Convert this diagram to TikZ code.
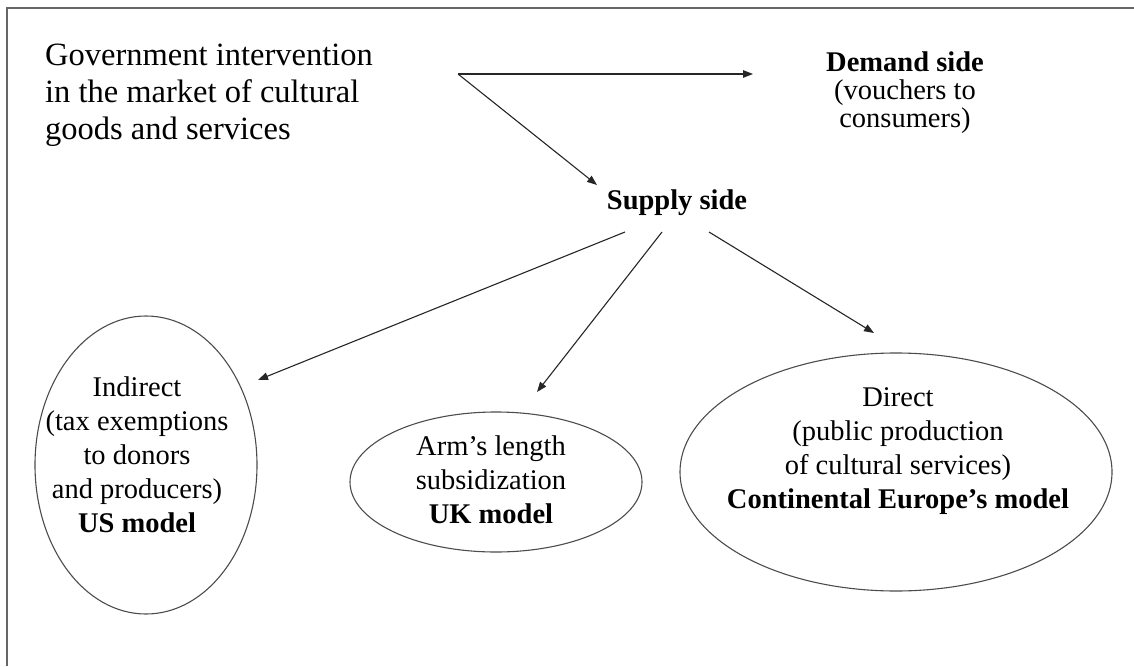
\documentclass[tikz,border=0pt]{standalone}
\usepackage{fontspec}
\setmainfont{Liberation Serif}
\usetikzlibrary{arrows.meta,shapes.geometric}
\begin{document}
\begin{tikzpicture}[x=1pt,y=-1pt,
  frame/.style={draw=black!60, line width=1.5pt},
  conn/.style={draw=black!85, line width=1.1pt, -{Triangle[length=10pt,width=7.5pt]}},
  oval/.style={draw=black!70, line width=1.1pt, ellipse, inner sep=0pt},
  txt/.style={inner sep=0pt, align=center, font=\fontsize{28.5}{34}\selectfont},
  ]
\useasboundingbox (0,0) rectangle (1134,666);
\draw[frame] (7,666) -- (7,8) -- (1134,8);

% texts
\node[inner sep=0pt, anchor=west, align=left, font=\fontsize{32.5}{37}\selectfont] (gov) at (45,95)
  {Government intervention\\in the market of cultural\\goods and services};
\node[inner sep=0pt, align=center, font=\fontsize{28.5}{28}\selectfont] (dem) at (905,93)
  {\textbf{Demand side}\\(vouchers to\\consumers)};
\node[txt] (sup) at (677,203) {\textbf{Supply side}};

% ellipses
\node[oval, minimum width=222pt, minimum height=298pt] (ind) at (146,465) {};
\node[txt] (indt) at (137,455) {Indirect\\(tax exemptions\\to donors\\and producers)\\\textbf{US model}};
\node[oval, minimum width=292pt, minimum height=140pt] (uk) at (496,482) {};
\node[txt] (ukt) at (491,480) {Arm’s length\\subsidization\\\textbf{UK model}};
\node[oval, minimum width=432pt, minimum height=238pt] (dir) at (896,472) {};
\node[txt] (dirt) at (898,451) {Direct\\(public production\\of cultural services)\\\textbf{Continental Europe’s model}};

% connector ends
\coordinate (g0) at (458,74);
\coordinate (gd) at (753,74);
\coordinate (gs) at (597,185);
\coordinate (s1) at (625,232);
\coordinate (s2) at (662,232);
\coordinate (s3) at (709,232);
\coordinate (e1) at (258,380);
\coordinate (e2) at (537,392);
\coordinate (e3) at (874,333);

\draw[conn] (g0) -- (gd);
\draw[conn] (g0) -- (gs);
\draw[conn] (s1) -- (e1);
\draw[conn] (s2) -- (e2);
\draw[conn] (s3) -- (e3);
\end{tikzpicture}
\end{document}
